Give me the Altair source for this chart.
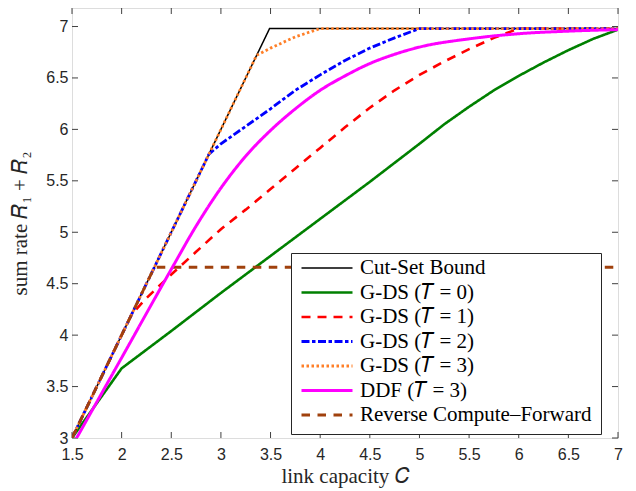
import altair as alt
import pandas as pd

# ---- data ----
series_names = ["Cut-Set Bound", "G-DS (𝑇 = 0)", "G-DS (𝑇 = 1)", "G-DS (𝑇 = 2)",
                "G-DS (𝑇 = 3)", "DDF (𝑇 = 3)", "Reverse Compute–Forward"]

cut_x = [1.5, 3.49, 7.0]
cut_y = [3.0, 6.98, 6.98]

t0_x = [1.5, 2.0, 2.5, 3.0, 3.5, 4.0, 4.5, 5.0, 5.25, 5.5, 5.75, 6.0, 6.25, 6.5, 6.75, 7.0]
t0_y = [3.0, 3.677, 4.04, 4.41, 4.77, 5.13, 5.49, 5.86, 6.05, 6.22, 6.38, 6.52, 6.65, 6.77, 6.88, 6.97]

t1_x = [1.5, 2.1, 2.25, 2.5, 2.75, 3.0, 3.25, 3.5, 3.75, 4.0, 4.25, 4.5, 4.75, 5.0, 5.25, 5.5, 5.75, 6.0, 7.0]
t1_y = [3.0, 4.2, 4.36, 4.59, 4.81, 5.03, 5.22, 5.42, 5.62, 5.82, 6.02, 6.21, 6.38, 6.53, 6.66, 6.78, 6.89, 6.98, 6.98]

t2_x = [1.5, 2.88, 3.0, 3.25, 3.5, 3.75, 4.0, 4.25, 4.5, 4.75, 5.0, 7.0]
t2_y = [3.0, 5.76, 5.86, 6.03, 6.20, 6.38, 6.53, 6.67, 6.79, 6.89, 6.98, 6.98]

t3_x = [1.5, 3.36, 3.5, 3.75, 4.0, 7.0]
t3_y = [3.0, 6.72, 6.79, 6.90, 6.98, 6.98]

ddf_x = [1.5, 2.0, 2.5, 2.75, 3.0, 3.25, 3.5, 3.75, 4.0, 4.25, 4.5, 4.75, 5.0, 5.5, 6.0, 6.5, 7.0]
ddf_y = [2.92, 3.78, 4.64, 5.06, 5.43, 5.74, 5.99, 6.20, 6.38, 6.52, 6.64, 6.73, 6.80, 6.88, 6.93, 6.955, 6.97]

rcf_x = [1.5, 2.33, 7.0]
rcf_y = [3.0, 4.66, 4.66]

x_ticks = [1.5, 2, 2.5, 3, 3.5, 4, 4.5, 5, 5.5, 6, 6.5, 7]
y_ticks = [3, 3.5, 4, 4.5, 5, 5.5, 6, 6.5, 7]

colors = ["#000000", "#008000", "#FF0000", "#0000FF", "#FF7F27", "#FF00FF", "#A0410D"]
dashes = [[1, 0], [1, 0], [9, 7], [8, 2.5, 3.5, 2.5], [2.5, 2.5], [1, 0], [8.5, 7.5]]
widths = [1.5, 2.6, 2.6, 2.8, 2.8, 3.0, 2.8]

xs = [cut_x, t0_x, t1_x, t2_x, t3_x, ddf_x, rcf_x]
ys = [cut_y, t0_y, t1_y, t2_y, t3_y, ddf_y, rcf_y]

rows = []
for name, xx, yy in zip(series_names, xs, ys):
    for a, b in zip(xx, yy):
        rows.append({"C": a, "R": b, "series": name})
df = pd.DataFrame(rows)
smooth_name = "DDF (𝑇 = 3)"
df_lin = df[df["series"] != smooth_name]
df_smooth = df[df["series"] == smooth_name]

W, H = 546, 430
XDOM = [1.5, 7.0]
YDOM = [3.0, 7.18]
AX = "#262626"
SERIF = "Liberation Serif"
SANS = "Liberation Sans"

def x_enc(field):
    return alt.X(field, type="quantitative",
                 scale=alt.Scale(domain=XDOM, nice=False, zero=False),
                 axis=alt.Axis(values=x_ticks, format=".1~f", title="link capacity 𝐶",
                               grid=False, ticks=False, tickSize=0, domain=False,
                               labelFont=SANS, labelFontSize=16, labelColor=AX,
                               labelPadding=8, titleFont=SERIF, titleFontSize=21,
                               titleColor=AX, titleFontWeight="normal", titlePadding=3,
                               labelFlush=False))

def y_enc(field):
    return alt.Y(field, type="quantitative",
                 scale=alt.Scale(domain=YDOM, nice=False, zero=False),
                 axis=alt.Axis(values=y_ticks, format=".1~f", title="sum rate 𝑅₁ + 𝑅₂",
                               grid=False, ticks=False, tickSize=0, domain=False,
                               labelFont=SANS, labelFontSize=16, labelColor=AX,
                               labelPadding=4, titleFont=SERIF, titleFontSize=21,
                               titleColor=AX, titleFontWeight="normal", titlePadding=15,
                               labelFlush=False))

legend = alt.Legend(title=None, orient="none", legendX=219, legendY=245,
                    labelFont=SERIF, labelFontSize=21, labelColor="#000000",
                    labelLimit=400, symbolSize=2601, symbolType="stroke",
                    labelOffset=6, padding=9, clipHeight=12, rowPadding=3.5,
                    strokeColor=AX, fillColor="#FFFFFF", cornerRadius=0)

def series_enc():
    return dict(
        color=alt.Color("series:N", scale=alt.Scale(domain=series_names, range=colors), legend=legend),
        strokeDash=alt.StrokeDash("series:N", scale=alt.Scale(domain=series_names, range=dashes), legend=legend),
        strokeWidth=alt.StrokeWidth("series:N", scale=alt.Scale(type="ordinal", domain=series_names, range=widths),
                                    legend=legend),
    )

lines = alt.Chart(df_lin).mark_line(clip=True).encode(x=x_enc("C"), y=y_enc("R"), **series_enc())
smooth = alt.Chart(df_smooth).mark_line(clip=True, interpolate="monotone").encode(
    x=x_enc("C"), y=y_enc("R"), **series_enc())

xt = pd.DataFrame({"v": x_ticks})
yt = pd.DataFrame({"v": y_ticks})
TL = 6
tick_style = dict(color="#404040", strokeWidth=1)

xb = alt.Chart(xt).mark_rule(**tick_style).encode(x=x_enc("v"), y=alt.value(H), y2=alt.value(H - TL))
xtop = alt.Chart(xt).mark_rule(**tick_style).encode(x=x_enc("v"), y=alt.value(0), y2=alt.value(TL))
yl = alt.Chart(yt).mark_rule(**tick_style).encode(y=y_enc("v"), x=alt.value(0), x2=alt.value(TL))
yr = alt.Chart(yt).mark_rule(**tick_style).encode(y=y_enc("v"), x=alt.value(W), x2=alt.value(W - TL))

chart = alt.layer(xb, xtop, yl, yr, lines, smooth).properties(
    width=W, height=H,
    autosize=alt.AutoSizeParams(type="none"),
    padding={"left": 64, "top": 0, "right": 10, "bottom": 53},
).configure_view(stroke=AX, strokeWidth=1).configure(background="#FFFFFF")

chart.save("out.html", embed_options={"renderer": "svg", "actions": False})
